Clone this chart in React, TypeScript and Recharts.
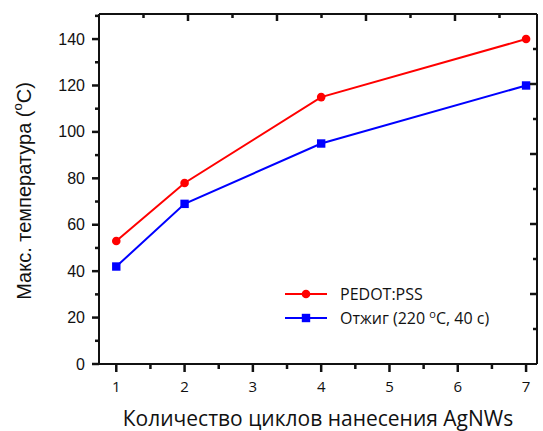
import React from "react";
import { LineChart, Line, XAxis, YAxis, Label } from "recharts";

const cycles = [1, 2, 4, 7];
const pedotPss = [53, 78, 115, 140];
const annealing = [42, 69, 95, 120];

const xTicks = [1, 1.5, 2, 2.5, 3, 3.5, 4, 4.5, 5, 5.5, 6, 6.5, 7];
const yTicks = [0, 10, 20, 30, 40, 50, 60, 70, 80, 90, 100, 110, 120, 130, 140, 150];
const topTicks = [1, 2, 3, 4, 5, 6, 7, 8, 9];
const rightTicks = [1, 2, 3, 4, 5, 6, 7, 8, 9];

const data = cycles.map((c, i) => ({ cycles: c, pedot: pedotPss[i], anneal: annealing[i] }));

const AX = "#111111";
const RED = "#ff0000";
const BLUE = "#0000ff";
const SANS = "'Liberation Sans', Arial, sans-serif";
const CAL = "'Open Sans', sans-serif";
const TW = 2.5;
const AW = 2;

const LeftTick = (p: any) => {
  const v = p.payload.value;
  const major = v % 20 === 0;
  return (
    <g>
      <line x1={p.x - (major ? 7 : 4)} x2={p.x} y1={p.y} y2={p.y} stroke={AX} strokeWidth={TW} strokeOpacity={1} />
      {major && (
        <text x={p.x - 14} y={p.y} textAnchor="end" dominantBaseline="central" fontFamily={SANS} fontSize={16} fill={AX}>
          {v}
        </text>
      )}
    </g>
  );
};

const BottomTick = (p: any) => {
  const v = p.payload.value;
  const major = Number.isInteger(v);
  return (
    <g>
      <line x1={p.x} x2={p.x} y1={p.y} y2={p.y + (major ? 8 : 5)} stroke={AX} strokeWidth={TW} strokeOpacity={1} />
      {major && (
        <text x={p.x} y={p.y + 28} textAnchor="middle" fontFamily={CAL} fontSize={15} fill={AX}>
          {v}
        </text>
      )}
    </g>
  );
};

const TopTick = (p: any) => {
  const major = p.payload.value % 2 === 0;
  return (
    <g>
      <line x1={p.x} x2={p.x} y1={p.y} y2={p.y + (major ? 7 : 4)} stroke={AX} strokeWidth={TW} strokeOpacity={1} />
    </g>
  );
};

const RightTick = (p: any) => {
  const major = p.payload.value % 2 === 0;
  return (
    <g>
      <line x1={p.x - (major ? 7 : 4)} x2={p.x} y1={p.y} y2={p.y} stroke={AX} strokeWidth={TW} strokeOpacity={1} />
    </g>
  );
};

const CircleDot = (p: any) => <circle key={p.index} cx={p.cx} cy={p.cy} r={4.3} fill={RED} stroke="none" />;
const SquareDot = (p: any) => (
  <rect key={p.index} x={p.cx - 4.2} y={p.cy - 4.2} width={8.4} height={8.4} fill={BLUE} stroke="none" />
);

const YTitle = (p: any) => {
  const vb = p.viewBox;
  const cx = vb.x - 15;
  const cy = vb.y + vb.height / 2 + 2;
  return (
    <text transform={`translate(${cx},${cy}) rotate(-90)`} textAnchor="middle" dominantBaseline="central" fontFamily={SANS} fontSize={20} fill={AX}>
      <tspan>Макс. температура (</tspan>
      <tspan dy={-7} fontSize={13}>o</tspan>
      <tspan dy={7}>C)</tspan>
    </text>
  );
};

const XTitle = (p: any) => {
  const vb = p.viewBox;
  return (
    <text x={vb.x + vb.width / 2} y={vb.y + 62} textAnchor="middle" fontFamily={CAL} fontSize={21} fill={AX}>
      Количество циклов нанесения AgNWs
    </text>
  );
};

const LegendBox = () => (
  <svg width={240} height={50} style={{ position: "absolute", left: 280, top: 280, display: "block" }}>
    <line x1={5} x2={47} y1={14} y2={14} stroke={RED} strokeWidth={2} />
    <circle cx={26} cy={14} r={4.3} fill={RED} />
    <text x={60} y={14} dominantBaseline="central" fontFamily={CAL} fontSize={16} fill={AX}>
      PEDOT:PSS
    </text>
    <line x1={5} x2={47} y1={38} y2={38} stroke={BLUE} strokeWidth={2} />
    <rect x={21.8} y={33.8} width={8.4} height={8.4} fill={BLUE} />
    <text x={60} y={38} dominantBaseline="central" fontFamily={CAL} fontSize={16} fill={AX}>
      <tspan>Отжиг (220 </tspan>
      <tspan dy={-5} fontSize={11}>o</tspan>
      <tspan dy={5}>C, 40 c)</tspan>
    </text>
  </svg>
);

export default function App() {
  return (
    <div style={{ position: "absolute", left: 0, top: 0 }}>
      <LineChart width={543} height={431} data={data} margin={{ top: 13, right: 5, bottom: 0, left: 39 }}>
        <XAxis
          dataKey="cycles"
          type="number"
          domain={[0.747, 7.16]}
          allowDataOverflow
          ticks={xTicks}
          interval={0}
          height={67}
          tickSize={0}
          tickMargin={0}
          tickLine={false}
          axisLine={{ stroke: AX, strokeWidth: AW }}
          tick={BottomTick}
        >
          <Label content={XTitle} />
        </XAxis>
        <XAxis
          xAxisId="top"
          dataKey="cycles"
          orientation="top"
          type="number"
          domain={[0, 9.843]}
          allowDataOverflow
          ticks={topTicks}
          interval={0}
          height={1}
          tickSize={0}
          tickMargin={0}
          tickLine={false}
          axisLine={{ stroke: AX, strokeWidth: AW }}
          tick={TopTick}
        />
        <YAxis
          type="number"
          domain={[0, 150.8]}
          allowDataOverflow
          ticks={yTicks}
          interval={0}
          width={60}
          tickSize={0}
          tickMargin={0}
          tickLine={false}
          axisLine={{ stroke: AX, strokeWidth: AW }}
          tick={LeftTick}
        >
          <Label content={YTitle} />
        </YAxis>
        <YAxis
          yAxisId="right"
          orientation="right"
          type="number"
          domain={[0, 10]}
          allowDataOverflow
          ticks={rightTicks}
          interval={0}
          width={1}
          tickSize={0}
          tickMargin={0}
          tickLine={false}
          axisLine={{ stroke: AX, strokeWidth: AW }}
          tick={RightTick}
        />
        <Line type="linear" dataKey="pedot" stroke={RED} strokeWidth={2} dot={CircleDot} activeDot={false} isAnimationActive={false} />
        <Line type="linear" dataKey="anneal" stroke={BLUE} strokeWidth={2} dot={SquareDot} activeDot={false} isAnimationActive={false} />
        <Line type="linear" dataKey="anneal" xAxisId="top" yAxisId="right" stroke="none" strokeWidth={0} dot={false} activeDot={false} isAnimationActive={false} />
      </LineChart>
      <LegendBox />
    </div>
  );
}
